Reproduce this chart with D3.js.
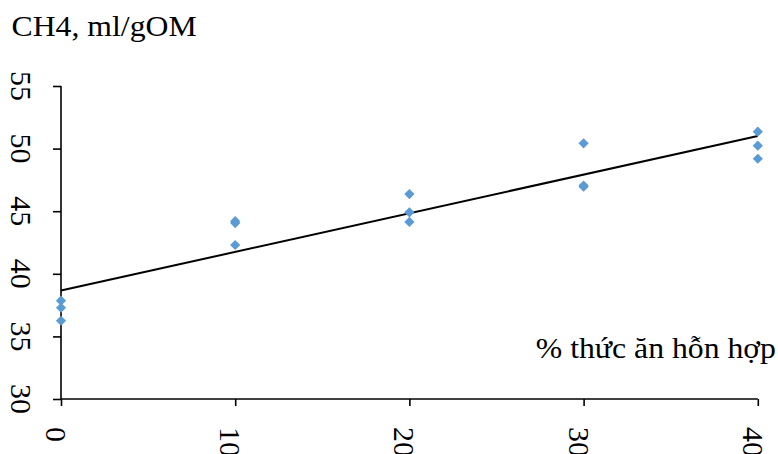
<!DOCTYPE html>
<html>
<head>
<meta charset="utf-8">
<script src="https://cdn.jsdelivr.net/npm/d3@7"></script>
<style>
  html, body { margin: 0; padding: 0; background: #fff; }
  svg { display: block; }
  text { font-family: "Liberation Serif", "Times New Roman", serif; fill: #000; }
</style>
</head>
<body>
<svg id="chart" width="778" height="454"></svg>
<script>
// ---- data ----
const xLevels = [0, 10, 20, 30, 40];
const obsX = [0, 0, 0, 10, 10, 10, 20, 20, 20, 30, 30, 30, 40, 40, 40];
const obsY = [37.85, 37.29, 36.25, 44.2, 44.05, 42.3, 46.37, 44.91, 44.14, 50.42, 47.05, 46.96, 51.35, 50.23, 49.19];
const yTicks = [30, 35, 40, 45, 50, 55];
const xTicks = [0, 10, 20, 30, 40];
const yTitle = "CH4, ml/gOM";
const xTitle = "% thức ăn hỗn hợp";

// ---- layout ----
const svg = d3.select("#chart");
const x = d3.scaleLinear().domain([0, 40]).range([61, 757.8]);
const y = d3.scaleLinear().domain([30, 55]).range([399, 86]);

// linear regression (trend line) from the observations
const n = obsX.length;
const mx = d3.mean(obsX), my = d3.mean(obsY);
let sxy = 0, sxx = 0;
for (let i = 0; i < n; i++) { sxy += (obsX[i] - mx) * (obsY[i] - my); sxx += (obsX[i] - mx) ** 2; }
const slope = sxy / sxx, intercept = my - slope * mx;
const trendX = [0, 40];

// axes
const yAxis = svg.append("g").attr("transform", "translate(61,0)")
  .call(d3.axisLeft(y).tickValues(yTicks).tickSize(8).tickFormat(""));
const xAxis = svg.append("g").attr("transform", "translate(0,399)")
  .call(d3.axisBottom(x).tickValues(xTicks).tickSize(7).tickFormat(""));
[yAxis, xAxis].forEach(g => {
  g.select(".domain").attr("stroke", "#000").attr("stroke-width", 1.6);
  g.selectAll(".tick line").attr("stroke", "#000").attr("stroke-width", 1.6);
});
xAxis.select(".domain").attr("d", `M${x(0)},0H${x(40)}`);
yAxis.select(".domain").attr("d", `M0,${y(30)}V${y(55)}`);

// tick labels (rotated 90°)
svg.append("g").selectAll("text").data(yTicks).join("text")
  .attr("transform", d => `translate(11,${y(d)}) rotate(90)`)
  .attr("text-anchor", "middle")
  .style("font-size", "30px")
  .text(d => d);
svg.append("g").selectAll("text").data(xTicks).join("text")
  .attr("transform", d => `translate(${x(d) - 15},427) rotate(90)`)
  .attr("text-anchor", "start")
  .style("font-size", "30px")
  .text(d => d);

// trend line
svg.append("path")
  .datum(trendX)
  .attr("fill", "none").attr("stroke", "#000").attr("stroke-width", 2)
  .attr("d", d3.line().x(d => x(d)).y(d => y(intercept + slope * d)));

// points
const diamond = d3.symbol().type(d3.symbolSquare).size(52);
svg.append("g").selectAll("path").data(obsX.map((v, i) => [v, obsY[i]])).join("path")
  .attr("d", diamond)
  .attr("transform", d => `translate(${x(d[0])},${y(d[1])}) rotate(45)`)
  .attr("fill", "#5B9BD5");

// titles
svg.append("text").attr("transform", "translate(11.5,35.5) scale(1.095,1)")
  .style("font-size", "29px").text(yTitle);
svg.append("text").attr("transform", "translate(776,358) scale(1.095,1)")
  .attr("text-anchor", "end").style("font-size", "29px").text(xTitle);
</script>
</body>
</html>
